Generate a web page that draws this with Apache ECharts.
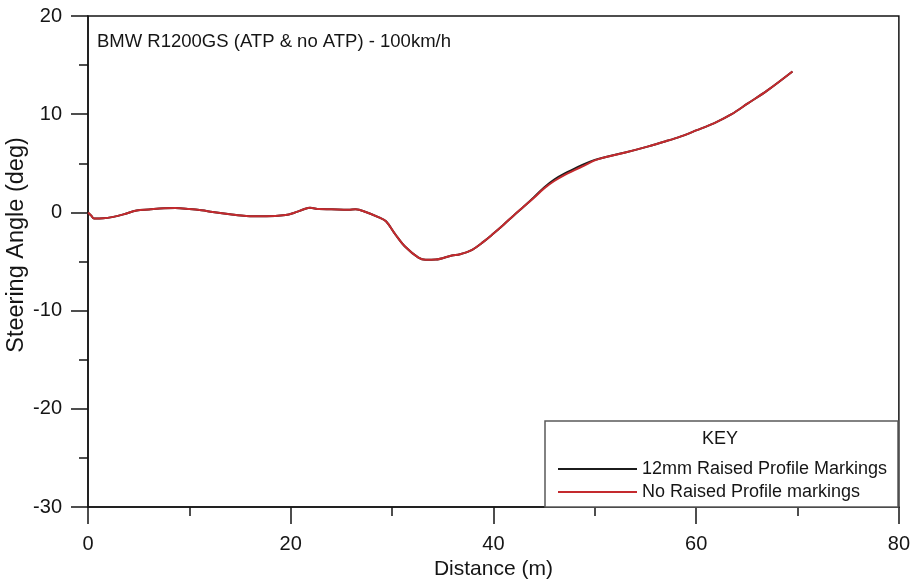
<!DOCTYPE html>
<html>
<head>
<meta charset="utf-8">
<title>BMW R1200GS steering angle</title>
<script src="https://cdn.jsdelivr.net/npm/echarts@6/dist/echarts.min.js"></script>
<style>
  html, body { margin: 0; padding: 0; background: #fff; }
  #chart { width: 913px; height: 585px; }
</style>
</head>
<body>
<div id="chart"></div>
<script>
// Distance along the run (m)
const distance = [
  0, 0.3, 0.6, 1.5, 2.5, 3.5, 4.8, 6, 7.5, 8.6,
  10, 11.2, 12.3, 14, 15.6, 17.6, 19.5, 20.3, 21.3, 21.9,
  22.8, 24, 25.7, 26.4, 27.4, 28.7, 29.4, 30.3, 31.3, 32.6,
  33.3, 34.3, 35.9, 36.7, 37.9, 39, 40, 41, 42, 43,
  44, 45, 46, 47, 48, 49, 50, 51, 53, 55.2,
  57, 58.5, 60, 61.8, 63.5, 65.1, 67, 69.5
];

// Steering angle (deg) with 12mm raised profile markings
const withMarkings = [
  0, -0.3, -0.62, -0.6, -0.45, -0.2, 0.2, 0.3, 0.42, 0.45,
  0.35, 0.22, 0.05, -0.18, -0.36, -0.4, -0.26, -0.05, 0.32, 0.48,
  0.34, 0.32, 0.28, 0.32, 0.05, -0.5, -0.9, -2.2, -3.5, -4.6,
  -4.82, -4.8, -4.38, -4.25, -3.8, -3.0, -2.15, -1.25, -0.3, 0.6,
  1.55, 2.55, 3.35, 3.95, 4.45, 4.95, 5.35, 5.62, 6.1, 6.7,
  7.25, 7.75, 8.35, 9.1, 10.0, 11.1, 12.4, 14.35
];

// Steering angle (deg) without raised profile markings
const noMarkings = [
  0, -0.3, -0.62, -0.6, -0.45, -0.2, 0.2, 0.3, 0.42, 0.45,
  0.35, 0.22, 0.05, -0.18, -0.36, -0.4, -0.26, -0.05, 0.32, 0.48,
  0.34, 0.32, 0.28, 0.32, 0.05, -0.5, -0.9, -2.2, -3.5, -4.6,
  -4.82, -4.8, -4.38, -4.25, -3.8, -3.0, -2.15, -1.25, -0.3, 0.6,
  1.5, 2.45, 3.2, 3.8, 4.3, 4.8, 5.3, 5.62, 6.1, 6.7,
  7.25, 7.75, 8.35, 9.1, 10.0, 11.1, 12.4, 14.35
];

const seriesNames = ['12mm Raised Profile Markings', 'No Raised Profile markings'];
const chartTitle = 'BMW R1200GS (ATP & no ATP) - 100km/h';
const xAxisTitle = 'Distance (m)';
const yAxisTitle = 'Steering Angle (deg)';
const keyTitle = 'KEY';

const FONT = '"Liberation Sans", Arial, sans-serif';
const INK = '#151515';

const pairs = (xs, ys) => xs.map((x, i) => [x, ys[i]]);

const axisCommon = {
  axisLine: { show: true, onZero: false, lineStyle: { color: INK, width: 1.5 } },
  axisTick: { show: true, inside: false, length: 17, lineStyle: { color: INK, width: 1.5 } },
  minorTick: { show: true, splitNumber: 2, length: 9, lineStyle: { color: INK, width: 1.5 } },
  splitLine: { show: false },
  minorSplitLine: { show: false }
};

const chart = echarts.init(document.getElementById('chart'), null, { renderer: 'canvas' });

chart.setOption({
  animation: false,
  backgroundColor: '#fff',
  grid: {
    left: 88, right: 11, top: 16, bottom: 73,
    show: true, borderColor: INK, borderWidth: 1.5, backgroundColor: 'transparent'
  },
  xAxis: Object.assign({
    type: 'value', min: 0, max: 80, interval: 20,
    name: xAxisTitle, nameLocation: 'middle', nameGap: 48,
    nameTextStyle: { fontFamily: FONT, fontSize: 21, color: INK },
    axisLabel: { margin: 27, fontFamily: FONT, fontSize: 20, color: INK }
  }, axisCommon),
  yAxis: Object.assign({
    type: 'value', min: -30, max: 20, interval: 10,
    axisLabel: { margin: 26, fontFamily: FONT, fontSize: 20, color: INK }
  }, axisCommon),
  legend: {
    data: seriesNames,
    orient: 'vertical',
    left: 553, top: 455,
    icon: 'rect', itemWidth: 79, itemHeight: 2, itemGap: 5,
    textStyle: { fontFamily: FONT, fontSize: 18, color: INK, lineHeight: 18 },
    z: 10
  },
  graphic: [
    {
      type: 'rect', z: 1,
      shape: { x: 545, y: 421, width: 353, height: 86 },
      style: { fill: '#fff', stroke: '#5a5a5a', lineWidth: 1.5 }
    },
    {
      type: 'text', z: 11, x: 720, y: 439,
      style: { text: keyTitle, font: '18px ' + FONT, fill: INK, align: 'center', verticalAlign: 'middle' }
    },
    {
      type: 'text', z: 11, x: 97, y: 42,
      style: { text: chartTitle, font: '18.5px ' + FONT, fill: INK, align: 'left', verticalAlign: 'middle' }
    },
    {
      type: 'text', z: 11, x: 17, y: 245, rotation: Math.PI / 2,
      style: { text: yAxisTitle, font: '23.5px ' + FONT, fill: INK, align: 'center', verticalAlign: 'middle' }
    }
  ],
  series: [
    {
      name: seriesNames[0], type: 'line', data: pairs(distance, withMarkings),
      smooth: 0.35, showSymbol: false, symbol: 'none',
      lineStyle: { color: '#1c1c1c', width: 2 }, itemStyle: { color: '#1c1c1c' }, z: 2
    },
    {
      name: seriesNames[1], type: 'line', data: pairs(distance, noMarkings),
      smooth: 0.35, showSymbol: false, symbol: 'none',
      lineStyle: { color: '#c42a2e', width: 2 }, itemStyle: { color: '#c42a2e' }, z: 3
    }
  ]
});
</script>
</body>
</html>
